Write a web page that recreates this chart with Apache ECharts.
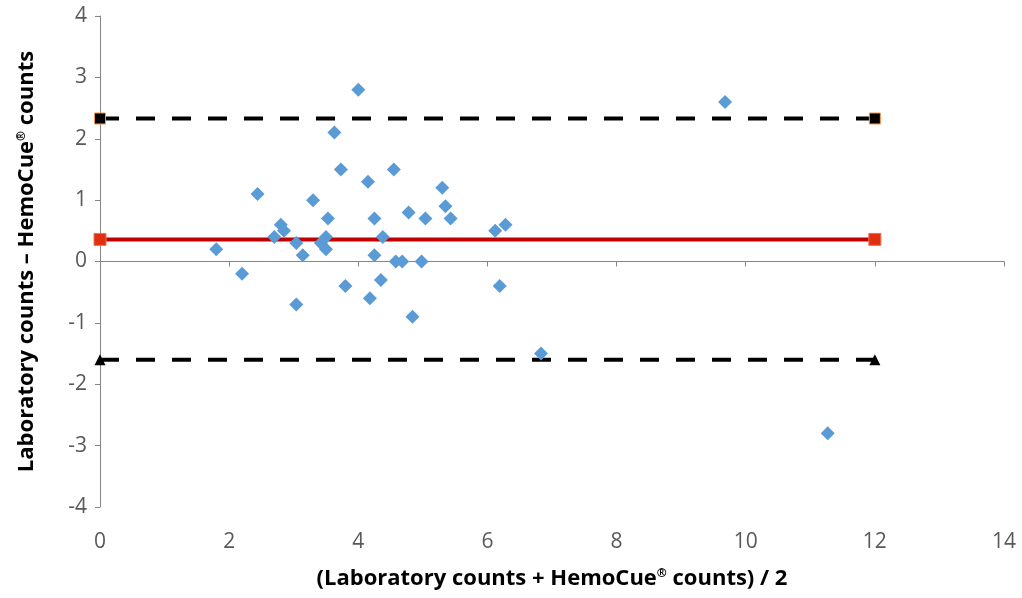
<!DOCTYPE html>
<html>
<head>
<meta charset="utf-8">
<script src="https://cdn.jsdelivr.net/npm/echarts@6/dist/echarts.min.js"></script>
<style>
  *{ margin:0; padding:0; }
  body{ background:#fff; }
  #chart{ width:1022px; height:598px; }
</style>
</head>
<body>
<div id="chart"></div>
<script>
// mean of the two methods (x) and their difference (y)
var meanCounts = [1.8, 2.2, 2.44, 2.7, 2.8, 2.85, 3.04, 3.04, 3.14, 3.3,
                  3.42, 3.5, 3.5, 3.53, 3.63, 3.73, 3.8, 4.0, 4.15, 4.18,
                  4.25, 4.25, 4.35, 4.38, 4.55, 4.58, 4.68, 4.78, 4.84, 4.98,
                  5.04, 5.3, 5.35, 5.43, 6.12, 6.28, 6.19, 6.83, 9.68, 11.27];
var diffCounts = [0.2, -0.2, 1.1, 0.4, 0.6, 0.5, 0.3, -0.7, 0.1, 1.0,
                  0.3, 0.4, 0.2, 0.7, 2.1, 1.5, -0.4, 2.8, 1.3, -0.6,
                  0.7, 0.1, -0.3, 0.4, 1.5, 0, 0, 0.8, -0.9, 0,
                  0.7, 1.2, 0.9, 0.7, 0.5, 0.6, -0.4, -1.5, 2.6, -2.8];

// bias and limits of agreement, drawn from x=0 to x=12
var lineX = [0, 12];
var upperLoA = [2.33, 2.33];
var meanDiff = [0.36, 0.36];
var lowerLoA = [-1.6, -1.6];

var xTicks = [0, 14, 2];
var yTicks = [-4, 4, 1];

function pairs(xs, ys){
  return xs.map(function(x, i){ return [x, ys[i]]; });
}

var chart = echarts.init(document.getElementById('chart'));
var labelFont = { color:'#595959', fontSize:21, fontFamily:'Open Sans' };
var nameFont = { color:'#000', fontSize:22, fontWeight:'bold', fontFamily:'Open Sans',
                 rich:{ sup:{ fontSize:12, fontWeight:'bold', verticalAlign:'top', padding:[0,0,9,0] } } };

chart.setOption({
  animation:false,
  grid:{ left:100, right:18, top:16, bottom:91 },
  xAxis:{
    type:'value', min:xTicks[0], max:xTicks[1], interval:xTicks[2],
    name:'(Laboratory counts + HemoCue{sup|®} counts) / 2',
    nameLocation:'middle', nameGap:61, nameTextStyle:nameFont,
    axisLine:{ lineStyle:{ color:'#868686', width:1 } },
    axisTick:{ show:true, length:5, lineStyle:{ color:'#868686' } },
    axisLabel:Object.assign({ margin:25 }, labelFont),
    splitLine:{ show:false }
  },
  yAxis:{
    type:'value', min:yTicks[0], max:yTicks[1], interval:yTicks[2],
    name:'Laboratory counts \u2013 HemoCue{sup|®} counts',
    nameLocation:'middle', nameGap:62, nameTextStyle:nameFont,
    axisLine:{ show:true, onZero:false, lineStyle:{ color:'#868686', width:1 } },
    axisTick:{ show:true, length:5, lineStyle:{ color:'#868686' } },
    axisLabel:Object.assign({ margin:13 }, labelFont),
    splitLine:{ show:false }
  },
  series:[
    {
      type:'line', data:pairs(lineX, upperLoA), symbol:'rect', symbolSize:11,
      lineStyle:{ color:'#000', width:4, type:[19,17] },
      itemStyle:{ color:'#000', borderColor:'#F79646', borderWidth:1 }, z:2
    },
    {
      type:'line', data:pairs(lineX, meanDiff), symbol:'rect', symbolSize:12,
      lineStyle:{ color:'#C00000', width:4 },
      itemStyle:{ color:'#E03010', borderColor:'#F07050', borderWidth:1 }, z:2
    },
    {
      type:'line', data:pairs(lineX, lowerLoA), symbol:'triangle', symbolSize:11,
      lineStyle:{ color:'#000', width:4, type:[19,17] },
      itemStyle:{ color:'#000' }, z:2
    },
    {
      type:'scatter', data:pairs(meanCounts, diffCounts), symbol:'diamond', symbolSize:14,
      itemStyle:{ color:'#5B9BD5', opacity:1 }, z:3
    }
  ]
});
</script>
</body>
</html>
